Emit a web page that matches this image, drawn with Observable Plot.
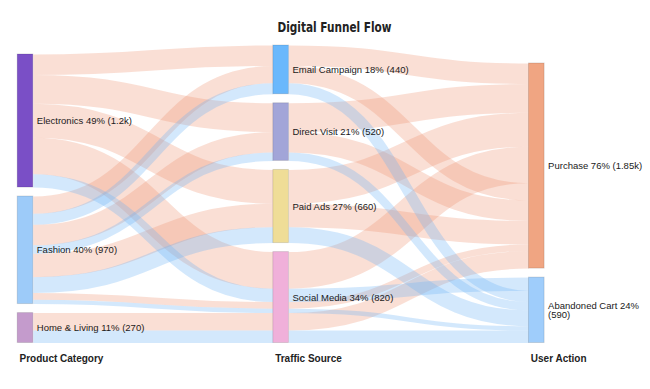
<!DOCTYPE html>
<html>
<head>
<meta charset="utf-8">
<script src="https://cdn.jsdelivr.net/npm/d3@7"></script>
<script src="https://cdn.jsdelivr.net/npm/@observablehq/plot@0.6"></script>
<style>
  body { margin: 0; background: #fff; }
  svg { display: block; }
</style>
</head>
<body>
<div id="chart"></div>
<script>
// ---- data ----
const chartTitle = "Digital Funnel Flow";
const stageTitles = ["Product Category", "Traffic Source", "User Action"];
const categories = ["Electronics", "Fashion", "Home & Living"];
const sources = ["Email Campaign", "Direct Visit", "Paid Ads", "Social Media"];
const actions = ["Purchase", "Abandoned Cart"];
// [category, source, action, value]
const flows = [
  ["Electronics", "Email Campaign", "Purchase", 185],
  ["Electronics", "Direct Visit", "Purchase", 260],
  ["Electronics", "Paid Ads", "Purchase", 305],
  ["Electronics", "Social Media", "Purchase", 330],
  ["Electronics", "Social Media", "Abandoned Cart", 120],
  ["Fashion", "Email Campaign", "Purchase", 155],
  ["Fashion", "Email Campaign", "Abandoned Cart", 100],
  ["Fashion", "Direct Visit", "Purchase", 185],
  ["Fashion", "Direct Visit", "Abandoned Cart", 75],
  ["Fashion", "Paid Ads", "Purchase", 212],
  ["Fashion", "Paid Ads", "Abandoned Cart", 143],
  ["Fashion", "Social Media", "Purchase", 60],
  ["Fashion", "Social Media", "Abandoned Cart", 40],
  ["Home & Living", "Social Media", "Purchase", 158],
  ["Home & Living", "Social Media", "Abandoned Cart", 112]
];

// ---- styles ----
const nodeColors = {
  "Electronics": "#7a4fc6", "Fashion": "#9dcbf9", "Home & Living": "#c49bcc",
  "Email Campaign": "#6ab8fc", "Direct Visit": "#a2a5d8", "Paid Ads": "#efdd97", "Social Media": "#f0b0da",
  "Purchase": "#f0a582", "Abandoned Cart": "#9fcdfb"
};
const linkColors = {"Purchase": "rgb(240,150,115)", "Abandoned Cart": "rgb(110,180,245)"};

const W = 650, H = 389;
const marginLeft = 25, marginRight = 113.7, marginTop = 45, marginBottom = 46.5;
const nodeWidthPx = 15.6;
const gap = 81;

// ---- layout ----
const ci = f => categories.indexOf(f.category), si = f => sources.indexOf(f.source), ai = f => actions.indexOf(f.action);
const F = flows.map(([category, source, action, value]) => ({category, source, action, value}))
  .sort((a, b) => d3.ascending(ci(a), ci(b)) || d3.ascending(si(a), si(b)) || d3.ascending(ai(a), ai(b)));
const keys = ["category", "source", "action"];
const slotKeys = ["yc", "ys", "ya"];
const columns = [categories, sources, actions];
const grand = d3.sum(F, d => d.value);
const T = grand + gap * (d3.max(columns, c => c.length) - 1);
const nodes = [];
columns.forEach((names, c) => {
  const totals = names.map(n => d3.sum(F.filter(f => f[keys[c]] === n), f => f.value));
  let y = T - (d3.sum(totals) + gap * (names.length - 1));
  names.forEach((n, i) => {
    const node = {col: c, name: n, value: totals[i], y0: y, y1: y + totals[i]};
    nodes.push(node);
    // stack the flow ribbons through this node in the global path order
    let s = y;
    for (const f of F) if (f[keys[c]] === n) { f[slotKeys[c]] = s + f.value / 2; s += f.value; }
    y += totals[i] + gap;
  });
});

const pxPerX = (W - marginLeft - marginRight) / 2;
const hw = nodeWidthPx / 2 / pxPerX;
const ky = (H - marginTop - marginBottom) / T;

const links = [];
for (const f of F) {
  links.push({x1: 0 + hw, y1: f.yc, x2: 1 - hw, y2: f.ys, value: f.value, action: f.action});
  links.push({x1: 1 + hw, y1: f.ys, x2: 2 - hw, y2: f.ya, value: f.value, action: f.action});
}
links.sort((a, b) => d3.ascending(actions.indexOf(a.action), actions.indexOf(b.action)));

const fmt = v => v >= 1000 ? (+(v / 1000).toFixed(2)) + "k" : String(v);
const label = d => `${d.name} ${Math.round(d.value / grand * 100)}% (${fmt(d.value)})`;

const fontLabel = "'Liberation Sans', Arial, sans-serif";

const plot = Plot.plot({
  width: W, height: H,
  marginLeft, marginRight, marginTop, marginBottom,
  x: {domain: [0, 2], axis: null},
  y: {domain: [0, T], reverse: true, axis: null},
  color: {type: "identity"},
  style: {fontFamily: fontLabel, background: "#fff"},
  marks: [
    Plot.link(links, {
      x1: "x1", y1: "y1", x2: "x2", y2: "y2",
      curve: "bump-x",
      stroke: d => linkColors[d.action],
      strokeWidth: d => d.value * ky,
      strokeOpacity: 0.3
    }),
    Plot.rect(nodes, {
      x1: d => d.col - hw, x2: d => d.col + hw,
      y1: "y0", y2: "y1",
      fill: d => nodeColors[d.name],
      stroke: "rgba(0,0,0,0.12)", strokeWidth: 1
    }),
    Plot.text(nodes.filter(d => d.col < 2), {
      x: d => d.col + hw, y: d => (d.y0 + d.y1) / 2,
      text: label, textAnchor: "start", dx: 3.5,
      fontSize: 9.5, fill: "#1a1a1a"
    }),
    Plot.text(nodes.filter(d => d.col === 2), {
      x: d => d.col + hw, y: d => (d.y0 + d.y1) / 2,
      text: label, textAnchor: "start", dx: 3.5, lineWidth: 11,
      fontSize: 9.5, fill: "#1a1a1a"
    }),
    Plot.text(stageTitles, {
      x: (d, i) => i, frameAnchor: "bottom", lineAnchor: "middle", dy: 15.5, dx: -6,
      textAnchor: "start", fontWeight: "bold", fontSize: 10, fill: "#222"
    }),
    Plot.text([chartTitle], {
      frameAnchor: "top-left", lineAnchor: "middle", dx: 334 - marginLeft, dy: -18,
      textAnchor: "middle", fontWeight: "bold", fontSize: 14, fill: "#222",
      fontFamily: "'DejaVu Sans Condensed', 'DejaVu Sans', sans-serif"
    })
  ]
});
// compress the title to the narrow width of the original
for (const t of plot.querySelectorAll("text")) {
  if (t.textContent === chartTitle) {
    t.setAttribute("textLength", "114");
    t.setAttribute("lengthAdjust", "spacingAndGlyphs");
    t.style.fontStretch = "condensed";
  }
}
document.getElementById("chart").append(plot);
</script>
</body>
</html>
